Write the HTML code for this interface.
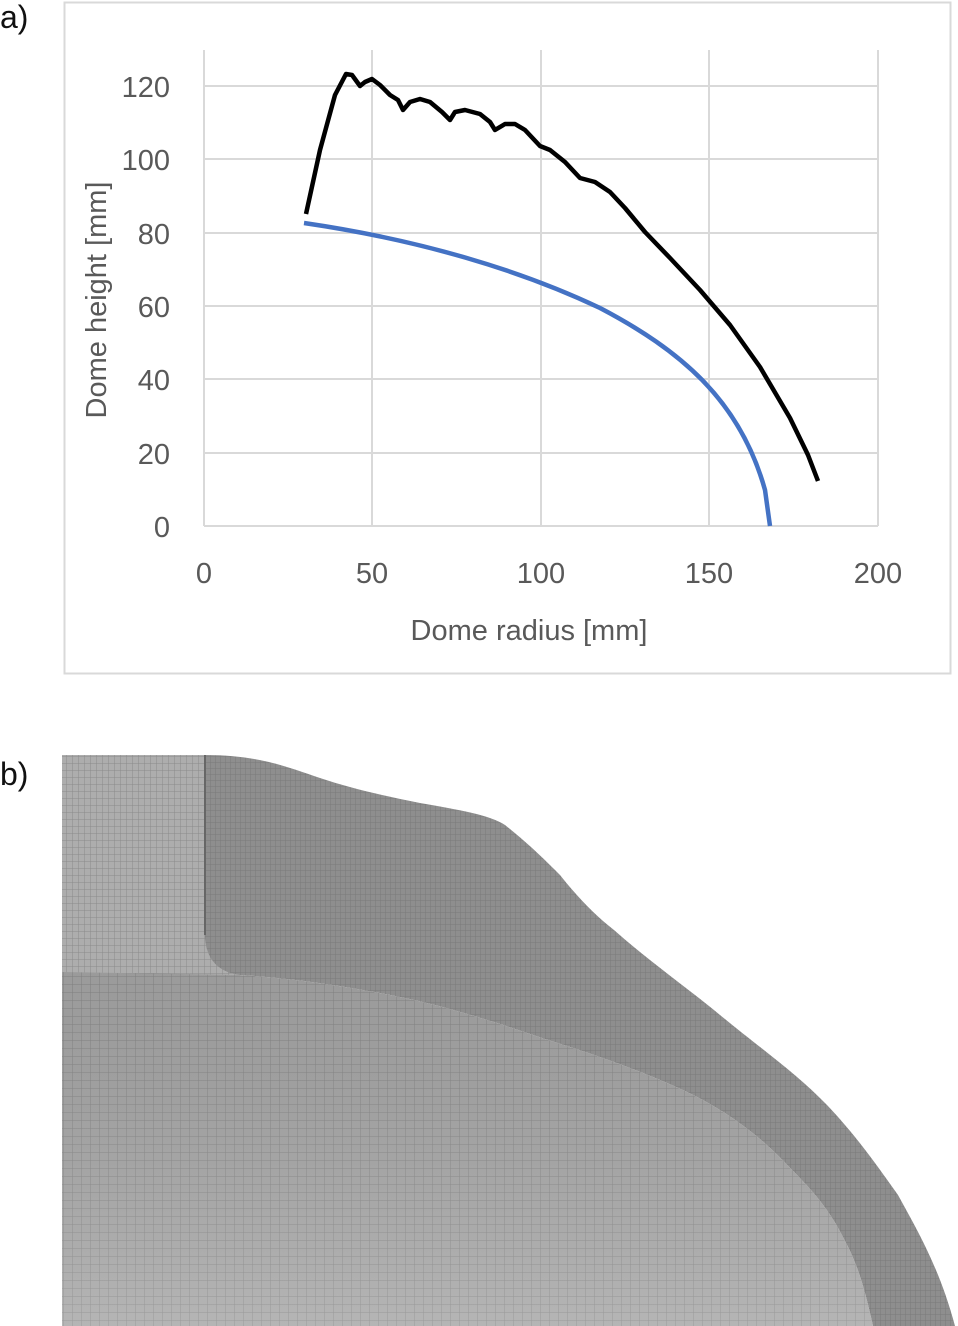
<!DOCTYPE html>
<html><head><meta charset="utf-8"><style>
html,body{margin:0;padding:0;background:#fff;}
body{width:958px;height:1326px;position:relative;overflow:hidden;font-family:"Liberation Sans",sans-serif;}
</style></head><body>
<svg width="958" height="1326" viewBox="0 0 958 1326" xmlns="http://www.w3.org/2000/svg" style="position:absolute;left:0;top:0">
<defs>
<pattern id="g1" width="6" height="7" patternUnits="userSpaceOnUse"><rect width="6" height="7" fill="#adadad"/><path d="M0 0H6M0 0V7" stroke="#8a8a8a" stroke-width="1"/></pattern>
<pattern id="g2" width="5" height="6" patternUnits="userSpaceOnUse"><rect width="5" height="6" fill="#8e8e8e"/><path d="M0 0H5M0 0V6" stroke="#7a7a7a" stroke-width="1"/></pattern>
<pattern id="g3" width="9" height="8" patternUnits="userSpaceOnUse"><rect width="9" height="8" fill="#a8a8a8"/><path d="M0 0H9M0 0V8" stroke="#8a8a8a" stroke-width="1"/></pattern>
<linearGradient id="sh" x1="0" y1="0" x2="0" y2="1"><stop offset="0" stop-color="#000" stop-opacity="0.08"/><stop offset="1" stop-color="#fff" stop-opacity="0.15"/></linearGradient>
</defs>
<text x="0" y="28" font-size="32" fill="#111">a)</text>
<text x="0" y="785" font-size="32" fill="#111">b)</text>
<rect x="64.5" y="2.5" width="886" height="671" fill="#fff" stroke="#d9d9d9" stroke-width="2"/>
<g stroke="#d9d9d9" stroke-width="2">
<line x1="204" y1="86" x2="878" y2="86"/><line x1="204" y1="159" x2="878" y2="159"/><line x1="204" y1="233" x2="878" y2="233"/><line x1="204" y1="306" x2="878" y2="306"/><line x1="204" y1="379" x2="878" y2="379"/><line x1="204" y1="453" x2="878" y2="453"/><line x1="204" y1="526" x2="878" y2="526"/>
<line x1="204" y1="50" x2="204" y2="526"/><line x1="372" y1="50" x2="372" y2="526"/><line x1="541" y1="50" x2="541" y2="526"/><line x1="709" y1="50" x2="709" y2="526"/><line x1="878" y1="50" x2="878" y2="526"/>
</g>
<g font-size="29" fill="#595959" text-anchor="end">
<text x="170" y="97">120</text><text x="170" y="170">100</text><text x="170" y="244">80</text><text x="170" y="317">60</text><text x="170" y="390">40</text><text x="170" y="464">20</text><text x="170" y="537">0</text>
</g>
<g font-size="29" fill="#595959" text-anchor="middle">
<text x="204" y="583">0</text><text x="372" y="583">50</text><text x="541" y="583">100</text><text x="709" y="583">150</text><text x="878" y="583">200</text>
<text x="529" y="640">Dome radius [mm]</text>
<text transform="translate(106,300) rotate(-90)">Dome height [mm]</text>
</g>
<polyline fill="none" stroke="#000" stroke-width="4.5" stroke-linejoin="round" points="306,214 320,150 335,95 346,74 352,75 360,86 365,82 372,79 380,85 390,95 398,100 403,110 410,102 420,99 430,102 442,112 450,120 455,112 465,110 480,114 490,122 495,130 505,124 515,124 525,130 540,146 550,150 565,162 580,178 595,182 610,192 625,208 645,232 670,258 700,290 730,325 760,367 790,418 808,455 818,481"/>
<path fill="none" stroke="#4472c4" stroke-width="4.5" d="M304,223 C420,240 520,270 600,308 C680,350 740,400 765,490 L770,526"/>
<rect x="62" y="755" width="144" height="220" fill="url(#g1)"/>
<rect x="200" y="920" width="45" height="55" fill="url(#g1)"/>
<path d="M205,755 C260,755 290,768 320,778 C350,788 380,795 420,803 C460,810 490,815 505,825 C530,845 545,860 560,875 C580,900 595,915 614,930 C650,962 690,990 720,1015 C760,1048 795,1072 827,1105 C860,1140 880,1170 898,1195 C920,1235 940,1270 955,1326 L873,1326 C865,1290 858,1265 845,1241 C830,1210 812,1190 792,1170 C760,1135 725,1110 685,1091 C640,1070 590,1053 542,1038 C490,1020 440,1005 400,997 C340,985 290,978 240,975 C215,972 205,955 205,935 Z" fill="url(#g2)"/>
<path d="M62,972 L240,975 C290,978 340,985 400,997 C440,1005 490,1020 542,1038 C590,1053 640,1070 685,1091 C725,1110 760,1135 792,1170 C812,1190 830,1210 845,1241 C858,1265 865,1290 873,1326 L62,1326 Z" fill="url(#g3)"/>
<path d="M62,972 L240,975 C290,978 340,985 400,997 C440,1005 490,1020 542,1038 C590,1053 640,1070 685,1091 C725,1110 760,1135 792,1170 C812,1190 830,1210 845,1241 C858,1265 865,1290 873,1326 L62,1326 Z" fill="url(#sh)"/>
<line x1="205" y1="755" x2="205" y2="935" stroke="#666" stroke-width="2"/>
</svg>
</body></html>
